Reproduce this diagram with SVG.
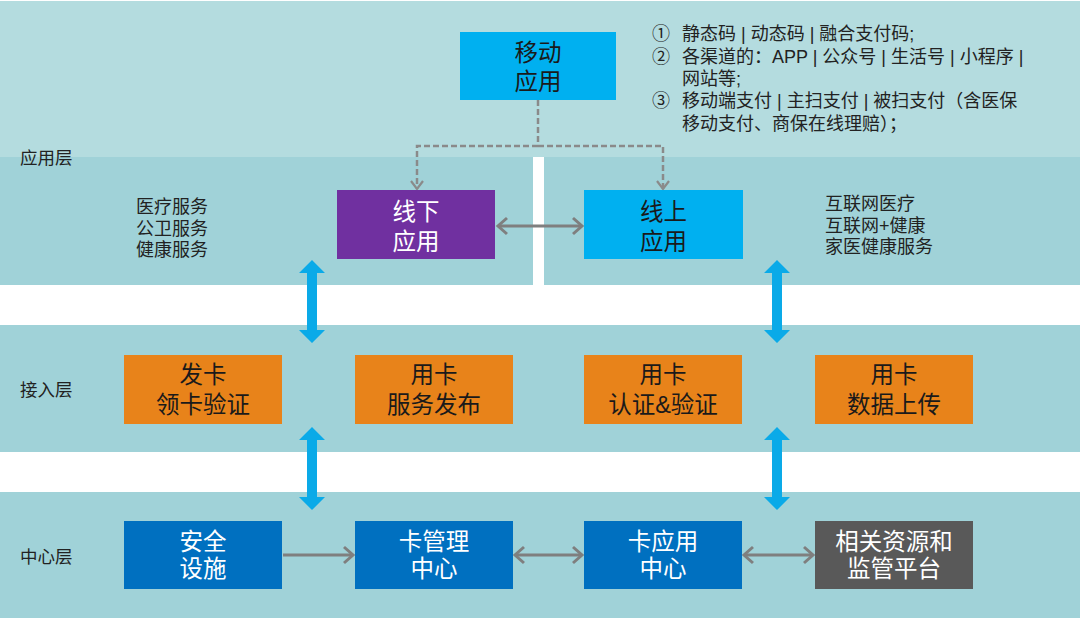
<svg xmlns="http://www.w3.org/2000/svg" width="1080" height="618" viewBox="0 0 1080 618">
<defs>
<style>
text{font-family:"Liberation Sans","Noto Sans CJK SC",sans-serif;}
.band1{fill:#b4dcdf;}
.band2{fill:#a0d2d8;}
.lbl{font-size:17.5px;fill:#222;}
.svc{font-size:18px;fill:#222;}
.note{font-size:18px;fill:#222;}
.bt{font-size:23.5px;text-anchor:middle;}
.dk{fill:#1a1a1a;}
.wt{fill:#ffffff;}
.g{stroke:#7f7f7f;stroke-width:3;fill:none;}
.dash{stroke:#8a8a8a;stroke-width:2.5;fill:none;stroke-dasharray:6 3;}
.blue{fill:#0aaae8;}
</style>
<marker id="ah" markerUnits="userSpaceOnUse" markerWidth="14" markerHeight="20" refX="11" refY="10" orient="auto-start-reverse" viewBox="0 0 14 20">
<path d="M2,2 L11,10 L2,18" fill="none" stroke="#7f7f7f" stroke-width="3"/>
</marker>
<marker id="dh" markerUnits="userSpaceOnUse" markerWidth="14" markerHeight="16" refX="10" refY="8" orient="auto" viewBox="0 0 14 16">
<path d="M2,2 L10,8 L2,14" fill="none" stroke="#8a8a8a" stroke-width="2.2"/>
</marker>
</defs>
<rect x="0" y="0" width="1080" height="618" fill="#ffffff"/>
<rect class="band1" x="0" y="1" width="1080" height="156"/>
<rect class="band2" x="0" y="157" width="533" height="128"/>
<rect class="band2" x="544" y="157" width="536" height="128"/>
<rect class="band2" x="0" y="325" width="1080" height="127"/>
<rect class="band2" x="0" y="492" width="1080" height="126"/>

<g id="layer-labels">
<text class="lbl" x="20" y="164">应用层</text>
<text class="lbl" x="20" y="396">接入层</text>
<text class="lbl" x="20" y="563">中心层</text>
</g>

<g id="notes">
<text class="note" x="652" y="40">①</text>
<text class="note" x="682" y="40">静态码 | 动态码 | 融合支付码;</text>
<text class="note" x="652" y="63">②</text>
<text class="note" x="682" y="63">各渠道的：APP | 公众号 | 生活号 | 小程序 |</text>
<text class="note" x="682" y="85">网站等;</text>
<text class="note" x="652" y="107">③</text>
<text class="note" x="682" y="107">移动端支付 | 主扫支付 | 被扫支付（含医保</text>
<text class="note" x="682" y="130">移动支付、商保在线理赔）；</text>
</g>

<g id="svc-left">
<text class="svc" x="136" y="213">医疗服务</text>
<text class="svc" x="136" y="235">公卫服务</text>
<text class="svc" x="136" y="256">健康服务</text>
</g>
<g id="svc-right">
<text class="svc" x="825" y="210">互联网医疗</text>
<text class="svc" x="825" y="232">互联网+健康</text>
<text class="svc" x="825" y="253">家医健康服务</text>
</g>

<g id="connectors">
<path class="dash" d="M538,100 V146"/>
<path class="dash" d="M538,146 H417 V189" marker-end="url(#dh)"/>
<path class="dash" d="M538,146 H663 V189" marker-end="url(#dh)"/>
<path class="g" d="M498,226 H582" marker-start="url(#ah)" marker-end="url(#ah)"/>
<path class="g" d="M283,555 H353" marker-end="url(#ah)"/>
<path class="g" d="M515,555 H582" marker-start="url(#ah)" marker-end="url(#ah)"/>
<path class="g" d="M744,555 H813" marker-start="url(#ah)" marker-end="url(#ah)"/>
<polygon class="blue" points="312,260 325,273 317,273 317,330 325,330 312,343 299,330 307,330 307,273 299,273"/>
<polygon class="blue" points="312,427 325,440 317,440 317,497 325,497 312,510 299,497 307,497 307,440 299,440"/>
<polygon class="blue" points="777,260 790,273 782,273 782,330 790,330 777,343 764,330 772,330 772,273 764,273"/>
<polygon class="blue" points="777,427 790,440 782,440 782,497 790,497 777,510 764,497 772,497 772,440 764,440"/>
</g>

<g id="n-mobile">
<rect x="460" y="32" width="156" height="68" fill="#00b0f0"/>
<text class="bt dk" x="538" y="61">移动</text>
<text class="bt dk" x="538" y="90">应用</text>
</g>
<g id="n-offline">
<rect x="337" y="190" width="158" height="69" fill="#7030a0"/>
<text class="bt wt" x="416" y="220">线下</text>
<text class="bt wt" x="416" y="250">应用</text>
</g>
<g id="n-online">
<rect x="584" y="190" width="159" height="69" fill="#00b0f0"/>
<text class="bt dk" x="663.5" y="220">线上</text>
<text class="bt dk" x="663.5" y="250">应用</text>
</g>

<g id="n-issue">
<rect x="124" y="355" width="158" height="69" fill="#e8831a"/>
<text class="bt dk" x="203" y="383">发卡</text>
<text class="bt dk" x="203" y="413">领卡验证</text>
</g>
<g id="n-publish">
<rect x="355" y="355" width="158" height="69" fill="#e8831a"/>
<text class="bt dk" x="434" y="383">用卡</text>
<text class="bt dk" x="434" y="413">服务发布</text>
</g>
<g id="n-auth">
<rect x="584" y="355" width="158" height="69" fill="#e8831a"/>
<text class="bt dk" x="663" y="383">用卡</text>
<text class="bt dk" x="663" y="413">认证&amp;验证</text>
</g>
<g id="n-upload">
<rect x="815" y="355" width="158" height="69" fill="#e8831a"/>
<text class="bt dk" x="894" y="383">用卡</text>
<text class="bt dk" x="894" y="413">数据上传</text>
</g>

<g id="n-security">
<rect x="124" y="521" width="158" height="68" fill="#0070c0"/>
<text class="bt wt" x="203" y="550">安全</text>
<text class="bt wt" x="203" y="577">设施</text>
</g>
<g id="n-cardmgmt">
<rect x="355" y="521" width="158" height="68" fill="#0070c0"/>
<text class="bt wt" x="434" y="550">卡管理</text>
<text class="bt wt" x="434" y="577">中心</text>
</g>
<g id="n-cardapp">
<rect x="584" y="521" width="158" height="68" fill="#0070c0"/>
<text class="bt wt" x="663" y="550">卡应用</text>
<text class="bt wt" x="663" y="577">中心</text>
</g>
<g id="n-resource">
<rect x="815" y="521" width="158" height="68" fill="#595959"/>
<text class="bt wt" x="894" y="550">相关资源和</text>
<text class="bt wt" x="894" y="577">监管平台</text>
</g>
</svg>
